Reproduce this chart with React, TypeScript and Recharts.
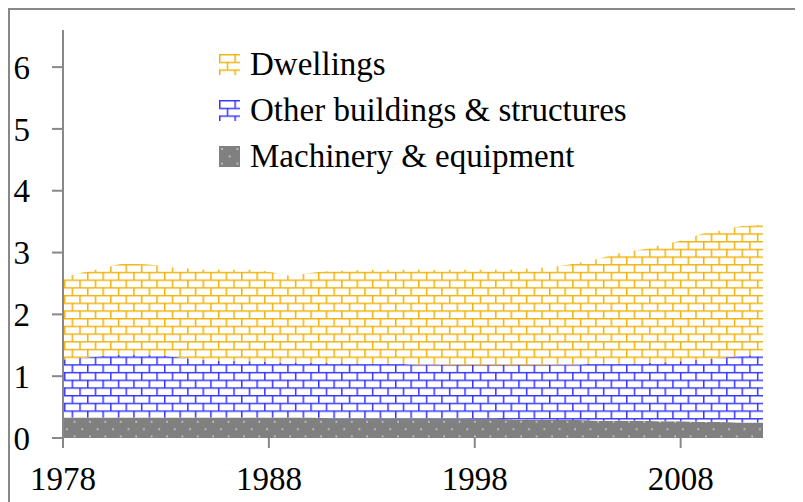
import React from 'react'
import { Area, AreaChart, XAxis, YAxis } from 'recharts'

const years = [
  1978, 1979, 1980, 1981, 1982, 1983, 1984, 1985, 1986, 1987, 1988, 1989,
  1990, 1991, 1992, 1993, 1994, 1995, 1996, 1997, 1998, 1999, 2000, 2001,
  2002, 2003, 2004, 2005, 2006, 2007, 2008, 2009, 2010, 2011, 2012,
]
const machinery = [
  0.33, 0.33, 0.33, 0.33, 0.33, 0.33, 0.33, 0.33, 0.33, 0.33, 0.33, 0.33,
  0.33, 0.32, 0.32, 0.32, 0.32, 0.32, 0.32, 0.32, 0.31, 0.31, 0.3, 0.3,
  0.29, 0.29, 0.28, 0.28, 0.28, 0.27, 0.27, 0.26, 0.26, 0.25, 0.25,
]
const otherBuildings = [
  0.94, 0.97, 1.0, 1.02, 1.02, 1.0, 0.96, 0.93, 0.92, 0.91, 0.9, 0.89,
  0.89, 0.89, 0.89, 0.88, 0.88, 0.87, 0.87, 0.86, 0.87, 0.87, 0.88, 0.88,
  0.9, 0.9, 0.92, 0.92, 0.93, 0.95, 0.97, 1.01, 1.04, 1.08, 1.1,
]
const dwellings = [
  1.33, 1.38, 1.42, 1.47, 1.46, 1.44, 1.45, 1.46, 1.47, 1.48, 1.46, 1.41,
  1.45, 1.49, 1.5, 1.52, 1.52, 1.53, 1.53, 1.54, 1.54, 1.54, 1.55, 1.57,
  1.59, 1.64, 1.7, 1.79, 1.83, 1.9, 1.95, 2.03, 2.06, 2.1, 2.1,
]
const xTicks = [1978, 1988, 1998, 2008]
const yTicks = [0, 1, 2, 3, 4, 5, 6]

const data = years.map((year, i) => ({
  year,
  machinery: machinery[i],
  other: otherBuildings[i],
  dwellings: dwellings[i],
}))

const FONT = "'Liberation Serif', 'Times New Roman', Times, 'DejaVu Serif', serif"
const YELLOW = '#F0B30C'
const BLUE = '#3535FF'
const GREY = '#808080'

// brick pattern, one tile = two courses of bricks
const Brick = ({ id, color }: { id: string; color: string }) => (
  <pattern id={id} width={15.4} height={15.4} patternUnits="userSpaceOnUse">
    <rect width={15.4} height={15.4} fill="#fff" />
    <path
      d="M0 0.75H15.4 M0 8.45H15.4 M0.75 0V7.7 M8.45 7.7V15.4"
      stroke={color}
      strokeWidth={1.5}
      fill="none"
    />
  </pattern>
)

const Dots = ({ id }: { id: string }) => (
  <pattern id={id} width={15.4} height={14.6} patternUnits="userSpaceOnUse">
    <rect width={15.4} height={14.6} fill={GREY} />
    <circle cx={3} cy={3} r={0.9} fill="#e4e4e4" />
    <circle cx={10.7} cy={10.3} r={0.9} fill="#e4e4e4" />
  </pattern>
)

const legendRows = [
  { label: 'Dwellings', kind: 'y' },
  { label: 'Other buildings & structures', kind: 'b' },
  { label: 'Machinery & equipment', kind: 'g' },
]

const LegendIcon = ({ kind }: { kind: string }) => {
  const id = 'leg-' + kind
  return (
    <svg width={21} height={21} style={{ display: 'block' }}>
      <defs>
        {kind === 'y' && <Brick id={id} color={YELLOW} />}
        {kind === 'b' && <Brick id={id} color={BLUE} />}
        {kind === 'g' && <Dots id={id} />}
      </defs>
      <rect width={21} height={21} fill={`url(#${id})`} />
    </svg>
  )
}

export default function App() {
  return (
    <div
      style={{
        position: 'relative',
        width: 793,
        height: 492,
        borderTop: '2px solid #888',
        borderLeft: '2px solid #888',
        fontFamily: FONT,
      }}
    >
      <AreaChart
        width={793}
        height={492}
        data={data}
        margin={{ top: 20, right: 40, bottom: 0, left: 0 }}
        style={{ fontFamily: FONT }}
      >
        <defs>
          <Brick id="brickYellow" color={YELLOW} />
          <Brick id="brickBlue" color={BLUE} />
          <Dots id="dotsGrey" />
        </defs>
        <XAxis
          dataKey="year"
          type="number"
          domain={[1978, 2012]}
          ticks={xTicks}
          height={64}
          axisLine={false}
          tickSize={10}
          tickMargin={19}
          tickLine={{ stroke: '#888', strokeWidth: 2 }}
          tick={{ fontSize: 33, fill: '#000', fontFamily: FONT }}
        />
        <YAxis
          domain={[0, 6.6]}
          ticks={yTicks}
          width={53}
          tickSize={11}
          tickMargin={22}
          axisLine={{ stroke: '#888', strokeWidth: 2 }}
          tickLine={{ stroke: '#888', strokeWidth: 2 }}
          tick={{ fontSize: 33, fill: '#000', fontFamily: FONT }}
        />
        <Area
          type="monotone"
          dataKey="machinery"
          stackId="1"
          stroke="none"
          fill="url(#dotsGrey)"
          fillOpacity={1}
          isAnimationActive={false}
        />
        <Area
          type="monotone"
          dataKey="other"
          stackId="1"
          stroke="none"
          fill="url(#brickBlue)"
          fillOpacity={1}
          isAnimationActive={false}
        />
        <Area
          type="monotone"
          dataKey="dwellings"
          stackId="1"
          stroke="none"
          fill="url(#brickYellow)"
          fillOpacity={1}
          isAnimationActive={false}
        />
      </AreaChart>
      <div style={{ position: 'absolute', left: 209, top: 31 }}>
        {legendRows.map((r) => (
          <div
            key={r.kind}
            style={{ display: 'flex', alignItems: 'center', height: 46 }}
          >
            <LegendIcon kind={r.kind} />
            <span
              style={{
                marginLeft: 10,
                fontSize: 33,
                lineHeight: '46px',
                color: '#000',
                whiteSpace: 'nowrap',
              }}
            >
              {r.label}
            </span>
          </div>
        ))}
      </div>
    </div>
  )
}
